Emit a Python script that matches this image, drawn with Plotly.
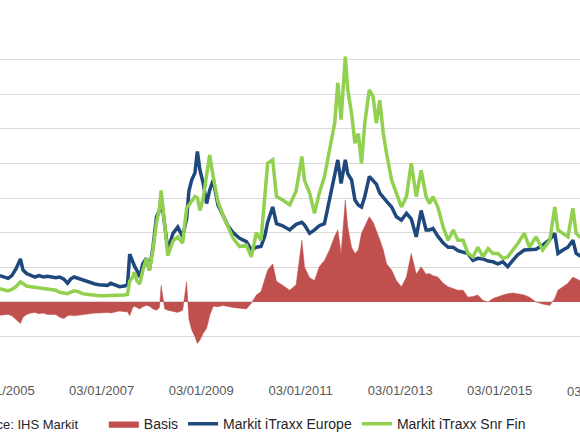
import datetime as dt
import plotly.graph_objects as go

# monthly-ish readings, bp
dates = [
    "2004-12-17", "2005-01-15", "2005-02-15", "2005-03-15", "2005-04-15", "2005-05-17",
    "2005-06-05", "2005-07-01", "2005-08-01", "2005-09-01", "2005-10-01", "2005-11-01",
    "2005-12-01", "2006-01-01", "2006-02-01", "2006-03-01", "2006-04-01", "2006-04-28",
    "2006-05-20", "2006-06-15", "2006-07-15", "2006-08-15", "2006-09-15", "2006-10-15",
    "2006-11-15", "2006-12-15", "2007-01-15", "2007-02-15", "2007-03-10", "2007-04-15",
    "2007-05-15", "2007-06-20", "2007-07-12", "2007-07-28", "2007-08-20", "2007-09-01",
    "2007-09-20", "2007-10-10", "2007-11-01", "2007-11-28", "2007-12-20", "2008-01-15",
    "2008-02-10", "2008-03-03", "2008-03-15", "2008-04-10", "2008-05-03", "2008-06-10",
    "2008-07-15", "2008-08-20", "2008-09-18", "2008-10-05", "2008-10-25", "2008-11-18",
    "2008-12-06", "2008-12-25", "2009-01-18", "2009-02-12", "2009-03-06", "2009-04-01",
    "2009-05-06", "2009-06-12", "2009-07-18", "2009-08-25", "2009-10-12", "2009-12-01",
    "2010-01-06", "2010-02-12", "2010-03-18", "2010-04-15", "2010-05-06", "2010-06-12",
    "2010-07-10", "2010-08-24", "2010-10-15", "2010-12-01", "2011-01-12", "2011-02-01",
    "2011-03-10", "2011-04-15", "2011-05-20", "2011-06-27", "2011-08-03", "2011-09-10",
    "2011-10-03", "2011-10-27", "2011-11-27", "2011-12-15", "2012-01-12", "2012-02-06",
    "2012-03-01", "2012-03-25", "2012-04-18", "2012-05-21", "2012-06-18", "2012-07-12",
    "2012-08-06", "2012-09-01", "2012-09-25", "2012-11-01", "2012-12-06", "2013-01-12",
    "2013-02-18", "2013-03-25", "2013-05-01", "2013-06-06", "2013-07-12", "2013-08-06",
    "2013-09-01", "2013-10-06", "2013-11-15", "2013-12-21", "2014-01-27", "2014-03-03",
    "2014-04-10", "2014-05-15", "2014-06-21", "2014-07-27", "2014-09-03", "2014-10-10",
    "2014-11-15", "2014-12-21", "2015-01-27", "2015-03-03", "2015-04-10", "2015-05-15",
    "2015-07-03", "2015-08-10", "2015-09-27", "2015-11-15", "2016-01-06", "2016-02-12",
    "2016-03-06", "2016-04-12", "2016-05-18", "2016-06-24", "2016-07-18", "2016-08-12",
    "2016-09-01",
]

itraxx_europe = [
    38, 36, 34, 38, 48, 62, 46, 41, 38, 36, 38, 36,
    37, 36, 35, 36, 33, 27, 33, 36, 34, 31, 30, 28,
    26, 25, 24, 24, 27, 24, 22, 23, 25, 69, 56, 52,
    45, 36, 55, 63, 46, 79, 123, 132, 152, 108, 75, 99,
    108, 94, 120, 160, 176, 186, 217, 190, 171, 142, 161, 176,
    140, 125, 110, 100, 92, 87, 75, 79, 80, 95, 115, 137,
    113, 110, 104, 112, 115, 111, 99, 104, 110, 113, 147, 186,
    205, 171, 205, 185, 176, 147, 140, 137, 152, 181, 176, 170,
    157, 150, 145, 137, 123, 118, 128, 120, 94, 132, 104, 104,
    106, 95, 85, 79, 79, 74, 72, 70, 60, 63, 62, 59,
    58, 55, 58, 51, 60, 68, 75, 75, 76, 82, 90, 99,
    70, 75, 79, 89, 70, 67, 68,
]

itraxx_snr_fin = [
    19, 18, 16, 18, 22, 29, 26, 23, 22, 21, 21, 20,
    19, 18, 17, 14, 13, 12, 14, 16, 15, 12, 11, 10,
    9, 9, 9, 9, 10, 9, 9, 10, 11, 30, 36, 43,
    30, 26, 45, 63, 46, 75, 115, 135, 161, 105, 67, 88,
    94, 85, 135, 140, 145, 152, 150, 132, 150, 185, 212, 181,
    145, 125, 110, 92, 80, 82, 65, 100, 89, 150, 200, 205,
    152, 147, 140, 160, 210, 175, 157, 128, 157, 181, 219, 258,
    316, 263, 354, 306, 272, 229, 243, 200, 258, 306, 296, 258,
    291, 243, 214, 176, 157, 137, 152, 200, 152, 190, 152, 142,
    152, 137, 108, 89, 104, 89, 89, 70, 65, 79, 65, 77,
    70, 70, 63, 65, 75, 84, 99, 79, 94, 75, 89, 137,
    104, 99, 94, 135, 99, 94, 95,
]

basis = [
    -19, -18, -18, -20, -26, -31, -22, -18, -16, -15, -17, -16,
    -18, -18, -18, -22, -24, -20, -19, -20, -19, -18, -17, -17,
    -16, -16, -15, -15, -16, -14, -13, -14, -14, -20, -8, -6,
    -8, -10, -7, -5, -6, -10, -12, -8, 24, -10, -12, -14,
    -15, -12, 29, -25, -40, -50, -60, -55, -45, -38, -20, -6,
    -7, -5, -7, -8, -9, -10, -2, 10, 15, 35, 46, 55,
    30, 24, 17, 25, 89, 50, 35, 31, 51, 60, 75, 95,
    104, 70, 147, 108, 79, 70, 75, 99, 110, 123, 115, 104,
    90, 75, 55, 46, 31, 22, 36, 70, 40, 51, 40, 41,
    38, 36, 27, 22, 20, 17, 17, 7, 8, 10, 2, 0,
    5, 8, 10, 12, 13, 12, 10, 7, 0, -3, -5, 5,
    17, 22, 27, 36, 33, 31, 30,
]

tick_dates = ["2005-01-03", "2007-01-03", "2009-01-03", "2011-01-03", "2013-01-03", "2015-01-03"]
last_tick = "2017-01-03"  # falls just past the right edge, only "03" shows

font = "Liberation Sans, Arial, sans-serif"
grid = "#D9D9D9"
xrange = ["2004-12-18", "2016-08-15"]

d0, d1, dl = (dt.date.fromisoformat(s) for s in (xrange[0], xrange[1], last_tick))
last_tick_pos = (dl - d0).days / (d1 - d0).days

fig = go.Figure()
fig.add_trace(go.Scatter(x=dates, y=basis, name="Basis", mode="lines",
                         fill="tozeroy", fillcolor="#C0504D",
                         line=dict(color="#C0504D", width=0.5)))
fig.add_trace(go.Scatter(x=dates, y=itraxx_europe, name="Markit iTraxx Europe", mode="lines",
                         line=dict(color="#1F497D", width=3.5)))
fig.add_trace(go.Scatter(x=dates, y=itraxx_snr_fin, name="Markit iTraxx Snr Fin", mode="lines",
                         line=dict(color="#92D050", width=3.5)))

fig.update_layout(
    width=580, height=435,
    margin=dict(l=0, r=0, t=24, b=63, autoexpand=False),
    paper_bgcolor="white", plot_bgcolor="white",
    font=dict(family=font, size=13, color="#595959"),
    xaxis=dict(type="date", range=xrange, automargin=False,
               tickvals=tick_dates, tickformat="%d/%m/%Y",
               showgrid=False, showline=False, zeroline=False,
               ticks="outside", ticklen=6, tickcolor="rgba(0,0,0,0)",
               ticklabeloverflow="allow"),
    xaxis2=dict(type="date", range=xrange, automargin=False,
                tickvals=tick_dates, overlaying="x", anchor="free", position=101 / 502,
                showticklabels=False, showgrid=False, showline=False,
                ticks="outside", ticklen=4, tickcolor="#BFBFBF"),
    # a hair wider than -100..400 so the edge gridlines get drawn
    yaxis=dict(range=[-101, 401], dtick=50, tick0=0, showticklabels=False, automargin=False,
               gridcolor=grid, gridwidth=1,
               zeroline=True, zerolinecolor=grid, zerolinewidth=1),
    showlegend=True,
    legend=dict(orientation="h", x=0.179, xanchor="left", y=-0.15, yanchor="middle",
                font=dict(size=14, color="#262626"), bgcolor="rgba(0,0,0,0)"),
)

fig.add_annotation(text="03/01/2017", x=last_tick_pos, xref="paper", y=-0.055, yref="paper",
                   xanchor="center", yanchor="middle", showarrow=False,
                   font=dict(family=font, size=13, color="#595959"))
fig.add_annotation(text="Source: IHS Markit", x=-0.057, xref="paper", xanchor="left",
                   y=-0.15, yref="paper", yanchor="middle", showarrow=False,
                   font=dict(family=font, size=13, color="#262626"))

fig.write_html("out.html", config={"displayModeBar": False},
               post_script="document.body.style.margin = '0';")
